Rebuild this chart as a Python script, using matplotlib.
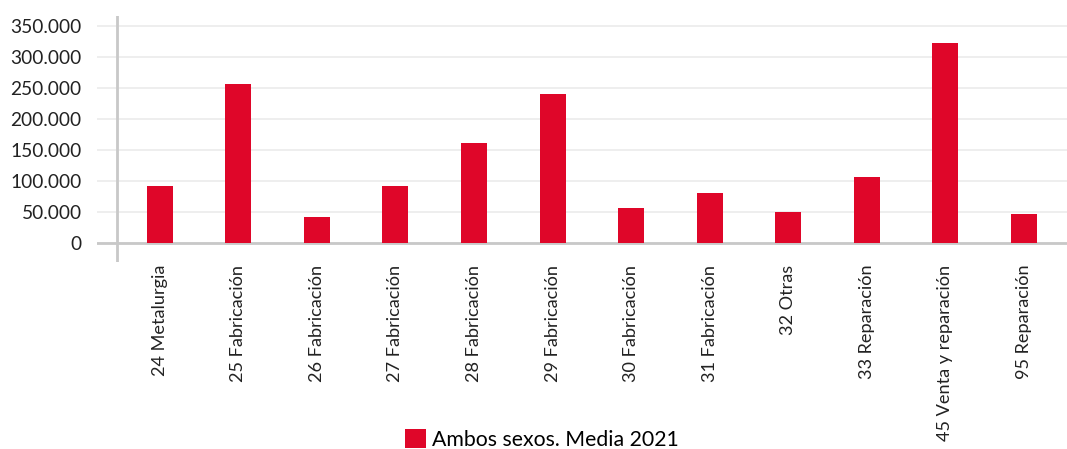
import matplotlib
matplotlib.use('Agg')
import matplotlib.pyplot as plt
from matplotlib.ticker import FuncFormatter

# Datos: afiliación media 2021, ambos sexos
categorias = ['24 Metalurgia', '25 Fabricación', '26 Fabricación', '27 Fabricación',
              '28 Fabricación', '29 Fabricación', '30 Fabricación', '31 Fabricación',
              '32 Otras', '33 Reparación', '45 Venta y reparación', '95 Reparación']
valores = [92400, 257000, 42000, 92000, 161500, 240500, 57000, 81000,
           50500, 106500, 322600, 47500]
yticks = [0, 50000, 100000, 150000, 200000, 250000, 300000, 350000]
serie = 'Ambos sexos. Media 2021'

c_red = '#DF0629'
c_grid = '#EBEBEB'
c_axis = '#C8C8C8'

plt.rcParams['font.family'] = ['Lato', 'DejaVu Sans']

fig = plt.figure(figsize=(10.67, 4.49), dpi=100)
ax = fig.add_axes([0.0909, 0.4165, 0.9091, 0.548])

x = list(range(len(categorias)))
ax.bar(x, valores, width=0.33, color=c_red, label=serie, zorder=3)

ax.set_xlim(-0.80, 11.55)
ax.set_ylim(-30000, 366000)
ax.set_yticks(yticks)
ax.yaxis.set_major_formatter(FuncFormatter(lambda v, p: f'{int(v):,}'.replace(',', '.')))
ax.set_xticks(x)
ax.set_xticklabels(categorias, rotation=90, va='top', ha='center')

ax.tick_params(axis='y', length=0, pad=11, labelsize=13.8, colors='#222222')
ax.tick_params(axis='x', length=0, pad=2, labelsize=13.1, colors='#222222')

for s in ax.spines.values():
    s.set_visible(False)
ax.grid(axis='y', color=c_grid, linewidth=1.2, zorder=0)
ax.axhline(0, color=c_axis, linewidth=2, zorder=2)
ax.axvline(-0.548, color=c_axis, linewidth=2, zorder=2)

fig.legend(loc='center', bbox_to_anchor=(0.508, 0.022), frameon=False,
           fontsize=15.3, handlelength=1.0, handleheight=1.0, handletextpad=0.3)

fig.savefig('out.png', dpi=100, facecolor='white')
